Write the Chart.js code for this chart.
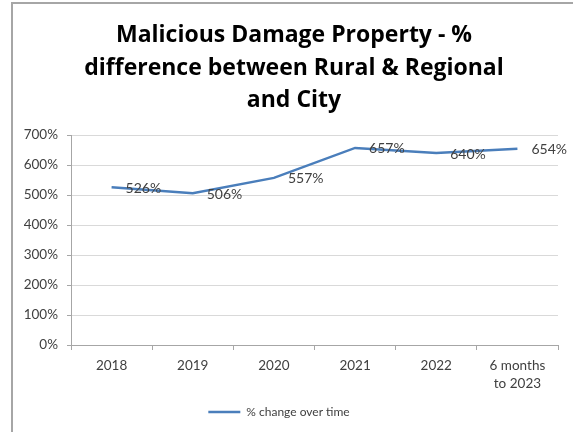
<!DOCTYPE html>
<html>
<head>
<meta charset="utf-8">
<script src="https://cdn.jsdelivr.net/npm/chart.js@4.4.1/dist/chart.umd.min.js"></script>
<style>
  html, body { margin: 0; padding: 0; background: #fff; overflow: hidden; }
  #wrap { position: relative; width: 573px; height: 432px; }
  #frame { position: absolute; left: 11px; top: 2px; width: 600px; height: 500px;
           border-left: 2px solid #a6a6a6; border-top: 2px solid #a6a6a6; }
  canvas { position: absolute; left: 0; top: 0; }
</style>
</head>
<body>
<div id="wrap">
  <div id="frame"></div>
  <canvas id="c" width="573" height="432"></canvas>
</div>
<script>
const titleLines = ['Malicious Damage Property - %', 'difference between Rural & Regional', 'and City'];
const categories = ['2018', '2019', '2020', '2021', '2022', ['6 months', 'to 2023']];
const seriesName = '% change over time';
const seriesValues = [526, 506, 557, 657, 640, 654];
const yTicks = [0, 100, 200, 300, 400, 500, 600, 700];

const lineColor = '#4a7ebb';
const textColor = '#404040';
const fontFamily = 'Lato, "Liberation Sans", sans-serif';
const titleFamily = '"Open Sans", Lato, sans-serif';

// Title drawn as real text, centred over the whole chart box as in the original
const titlePlugin = {
  id: 'customTitle',
  afterDraw(chart) {
    const ctx = chart.ctx;
    ctx.save();
    ctx.font = 'bold 23px ' + titleFamily;
    ctx.fillStyle = '#000';
    ctx.textAlign = 'center';
    ctx.textBaseline = 'alphabetic';
    const cx = 294;
    titleLines.forEach((line, i) => {
      ctx.fillText(line, cx, 42 + i * 32.5);
    });
    ctx.restore();
  }
};

const dataLabels = {
  id: 'dataLabels',
  afterDatasetsDraw(chart) {
    const ctx = chart.ctx;
    ctx.save();
    ctx.font = '14px ' + fontFamily;
    ctx.fillStyle = textColor;
    ctx.textAlign = 'left';
    ctx.textBaseline = 'middle';
    chart.data.datasets.forEach((ds, i) => {
      const meta = chart.getDatasetMeta(i);
      meta.data.forEach((el, j) => {
        ctx.fillText(ds.data[j] + '%', el.x + 14, el.y + 1);
      });
    });
    ctx.restore();
  }
};

new Chart(document.getElementById('c'), {
  type: 'line',
  data: {
    labels: categories,
    datasets: [{
      label: seriesName,
      data: seriesValues,
      borderColor: lineColor,
      backgroundColor: lineColor,
      borderWidth: 2.5,
      pointRadius: 0,
      pointHoverRadius: 0,
      tension: 0
    }]
  },
  options: {
    responsive: false,
    animation: false,
    devicePixelRatio: 1,
    layout: { padding: { left: 0, right: 15, top: 135, bottom: 4 } },
    plugins: {
      title: { display: false },
      legend: {
        position: 'bottom',
        labels: {
          color: textColor,
          font: { family: fontFamily, size: 12 },
          usePointStyle: true,
          pointStyle: 'line',
          pointStyleWidth: 32,
          padding: 8
        }
      },
      tooltip: { enabled: false }
    },
    scales: {
      x: {
        offset: true,
        grid: { drawOnChartArea: false, drawTicks: true, tickLength: 5, offset: true, color: '#a6a6a6' },
        border: { color: '#a6a6a6' },
        ticks: { color: textColor, font: { family: fontFamily, size: 13.5, lineHeight: 1.3 }, padding: 7, maxRotation: 0, autoSkip: false },
        afterFit(scale) { scale.height = 53; }
      },
      y: {
        min: 0,
        max: 700,
        afterBuildTicks(scale) { scale.ticks = yTicks.map(v => ({ value: v })); },
        grid: { color: '#d9d9d9', tickLength: 4, drawTicks: true, tickColor: '#a6a6a6' },
        border: { color: '#a6a6a6' },
        ticks: { color: textColor, font: { family: fontFamily, size: 13.5 }, padding: 9, callback: v => v + '%' },
        afterFit(scale) { scale.width = 71; }
      }
    }
  },
  plugins: [dataLabels, titlePlugin]
});
</script>
</body>
</html>
